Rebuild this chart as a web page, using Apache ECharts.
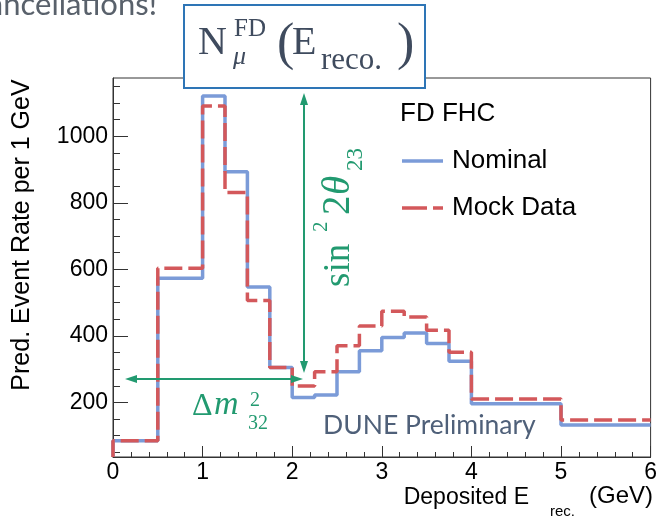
<!DOCTYPE html>
<html>
<head>
<meta charset="utf-8">
<script src="https://cdn.jsdelivr.net/npm/echarts@6/dist/echarts.min.js"></script>
<style>
  html, body { margin: 0; padding: 0; background: #fff; }
  #chart { width: 660px; height: 522px; }
</style>
</head>
<body>
<div id="chart"></div>
<script>
// histogram bin edges (GeV) and bin contents
const binEdges = [0, 0.5, 1, 1.25, 1.5, 1.75, 2, 2.25, 2.5, 2.75, 3, 3.25, 3.5, 3.75, 4, 5, 6];
const nominal = [85, 573, 1121, 893, 547, 305, 215, 222, 292, 355, 395, 409, 377, 324, 196, 132];
const mockData = [85, 603, 1091, 831, 506, 305, 249, 292, 370, 430, 474, 457, 417, 351, 210, 147];
const yTicks = [200, 400, 600, 800, 1000];
const yMin = 36, yMax = 1175;

// minor ticks every 50, skipping the labelled ones
const yMinorTicks = [];
for (let v = 50; v < yMax; v += 50) if (yTicks.indexOf(v) < 0) yMinorTicks.push(v);

// step points for a histogram outline (starts from the bottom of the frame)
function stepPoints(vals) {
  const pts = [[binEdges[0], yMin]];
  vals.forEach((v, i) => pts.push([binEdges[i], v]));
  pts.push([binEdges[binEdges.length - 1], vals[vals.length - 1]]);
  return pts;
}

const blue = '#7b9bd8';
const red = '#d3585b';
const green = '#229a70';
const slate = '#3f4b5e';
const axisCol = '#333';

// text placed by its baseline
function txt(text, x, base, size, opt) {
  opt = opt || {};
  const fam = opt.family || 'Liberation Serif';
  const k = opt.k || 0.34;
  return {
    type: 'text', x: x, y: base - k * size, z: 100,
    style: {
      text: text, fill: opt.color || slate,
      fontSize: size, fontFamily: fam,
      fontStyle: opt.italic ? 'italic' : 'normal',
      align: opt.align || 'left', verticalAlign: 'middle'
    }
  };
}

function arrowHead(tip, dir) {
  const [x, y] = tip, L = 12, W = 4;
  let pts;
  if (dir === 'up') pts = [[x, y], [x - W, y + L], [x + W, y + L]];
  if (dir === 'down') pts = [[x, y], [x - W, y - L], [x + W, y - L]];
  if (dir === 'left') pts = [[x, y], [x + L, y - W], [x + L, y + W]];
  if (dir === 'right') pts = [[x, y], [x - L, y - W], [x - L, y + W]];
  return { type: 'polygon', z: 100, shape: { points: pts }, style: { fill: green } };
}

const chart = echarts.init(document.getElementById('chart'));

chart.setOption({
  animation: false,
  grid: { left: 113, right: 7, top: 78, bottom: 65, show: true, borderColor: axisCol, borderWidth: 1 },
  legend: {
    orient: 'vertical', left: 397, top: 143, itemWidth: 41, itemHeight: 3.5, itemGap: 21,
    textStyle: { fontSize: 26, fontFamily: 'Liberation Sans', color: '#000', padding: [0, 0, 0, 4] },
    data: [
      { name: 'Nominal', icon: 'rect' },
      { name: 'Mock Data', icon: 'path://M0,0H25V3.5H0Z M31,0H41V3.5H31Z' }
    ]
  },
  xAxis: {
    type: 'value', min: 0, max: 6, interval: 1,
    axisLine: { lineStyle: { color: axisCol, width: 1 } },
    axisTick: { inside: true, length: 11, lineStyle: { color: axisCol } },
    minorTick: { show: true, splitNumber: 5, length: 5, lineStyle: { color: axisCol } },
    splitLine: { show: false },
    axisLabel: { fontSize: 23, fontFamily: 'Liberation Sans', color: '#000', margin: 4 }
  },
  yAxis: [{
    type: 'value', min: yMin, max: yMax,
    axisLine: { show: true, lineStyle: { color: axisCol, width: 1 } },
    axisTick: { inside: true, length: 15, customValues: yTicks, lineStyle: { color: axisCol } },
    axisLabel: { customValues: yTicks, formatter: v => String(v), fontSize: 23,
                 fontFamily: 'Liberation Sans', color: '#000', margin: 5 },
    splitLine: { show: false }
  }, {
    type: 'value', min: yMin, max: yMax, position: 'left',
    axisLine: { show: false },
    axisTick: { inside: true, length: 7, customValues: yMinorTicks, lineStyle: { color: axisCol } },
    axisLabel: { show: false },
    splitLine: { show: false }
  }],
  series: [{
    name: 'Nominal', type: 'line', step: 'end', symbol: 'none', clip: false,
    data: stepPoints(nominal), z: 2,
    itemStyle: { color: blue },
    lineStyle: { color: blue, width: 3.5 }
  }, {
    name: 'Mock Data', type: 'line', step: 'end', symbol: 'none', clip: false,
    data: stepPoints(mockData), z: 3,
    itemStyle: { color: red },
    lineStyle: { color: red, width: 3.5, type: [18, 6], cap: 'butt' }
  }],
  graphic: [
    // slide text cut at the top
    txt('cancellations!', 157, 17, 31, { family: 'Lato', color: '#59616b', align: 'right', k: 0.39 }),
    // N box
    { type: 'rect', z: 99, shape: { x: 184, y: 5, width: 241, height: 83 },
      style: { fill: '#fff', stroke: '#2e75b6', lineWidth: 2 } },
    txt('N', 198, 57, 40),
    txt('FD', 234, 38, 25),
    txt('\u03bc', 233, 66, 26, { italic: true }),
    txt('(', 277, 63, 52),
    txt('E', 292, 57, 40),
    txt('reco.', 321, 71, 31),
    txt(')', 397, 63, 52),
    // arrows
    { type: 'line', z: 100, shape: { x1: 304, y1: 100, x2: 304, y2: 366 }, style: { stroke: green, lineWidth: 2 } },
    arrowHead([304, 93], 'up'),
    arrowHead([304, 373], 'down'),
    { type: 'line', z: 100, shape: { x1: 132, y1: 379, x2: 296, y2: 379 }, style: { stroke: green, lineWidth: 2 } },
    arrowHead([125, 379], 'left'),
    arrowHead([303, 379], 'right'),
    // sin^2 2theta_23, reading upward
    { type: 'group', x: 352, y: 287, rotation: Math.PI / 2, children: [
      txt('sin', 0, 0, 37, { color: green }),
      txt('2', 55, -23, 21, { color: green }),
      txt('2', 72, 0, 39, { color: green }),
      txt('\u03b8', 92, 0, 39, { color: green, italic: true }),
      txt('23', 116, 12, 23, { color: green })
    ] },
    // Delta m^2_32
    txt('\u0394', 192, 417, 32, { color: green }),
    txt('m', 214, 417, 34, { color: green, italic: true }),
    txt('2', 250, 408, 20, { color: green }),
    txt('32', 248, 431, 20, { color: green }),
    // watermark
    txt('DUNE Preliminary', 323, 436, 26.5, { family: 'Lato', color: '#4f6079', k: 0.39 }),
    // legend header
    txt('FD FHC', 400, 123, 26, { family: 'Liberation Sans', color: '#000' }),
    // axis titles
    { type: 'text', x: 22, y: 235, rotation: Math.PI / 2, z: 100,
      style: { text: 'Pred. Event Rate per 1 GeV', fontSize: 25, fontFamily: 'Liberation Sans',
               fill: '#000', align: 'center', verticalAlign: 'middle' } },
    txt('Deposited E', 529, 505, 23, { family: 'Liberation Sans', color: '#000', align: 'right' }),
    txt('rec.', 550, 517, 15, { family: 'Liberation Sans', color: '#000' }),
    txt('(GeV)', 653, 505, 24, { family: 'Liberation Sans', color: '#000', align: 'right' })
  ]
});
</script>
</body>
</html>
